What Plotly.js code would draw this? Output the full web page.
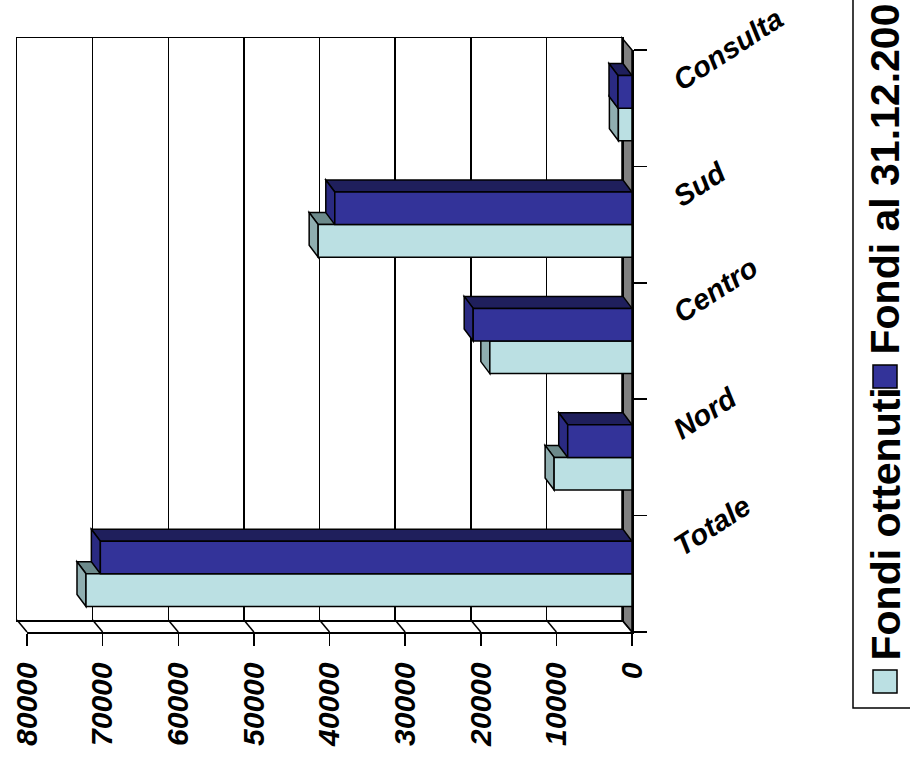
<!DOCTYPE html>
<html>
<head>
<meta charset="utf-8">
<script src="https://cdn.plot.ly/plotly-3.0.1.min.js"></script>
<style>
html,body{margin:0;padding:0;background:#ffffff;}
#chart{width:910px;height:762px;}
</style>
</head>
<body>
<div id="chart"></div>
<script>
// ---------------- data ----------------
const categories = ['Totale', 'Nord', 'Centro', 'Sud', 'Consulta'];
const fondiOttenuti = [72200, 10300, 18800, 41500, 1800];
const fondiAl = [70300, 8500, 21000, 39300, 1850];
const seriesNames = ['Fondi ottenuti', 'Fondi al 31.12.200'];
const xTickVals = [0, 10000, 20000, 30000, 40000, 50000, 60000, 70000, 80000];
const xTickText = ['0', '10000', '20000', '30000', '40000', '50000', '60000', '70000', '80000'];

// ---------------- geometry / style ----------------
const W = 910, H = 762;
const ML = 17, MR = 278, MT = 38, MB = 130;
const PW = W - ML - MR, PH = H - MT - MB;
const WALL_DX = 10, WALL_DY = 12;      // depth of the 3D walls (px)
const BAR_DX = 9, BAR_DY = 12;         // depth of the 3D bars (px)
const FW = PW - WALL_DX, FH = PH - WALL_DY;
const X_MAX = 80000;
const NCAT = categories.length;
const ux = X_MAX / FW;                 // value units per px
const uy = NCAT / FH;                  // category units per px
const BAR_W = 0.28;
const FONT = 'Liberation Sans, Arial, sans-serif';

const styles = [
  {front: '#BBE0E3', top: '#6C8A8B', side: '#8FAEB0', offset: -BAR_W},
  {front: '#333399', top: '#1F1F5C', side: '#2A2A82', offset: 0}
];
const LINE = {color: '#000000', width: 1.5};

const px2x = px => (px - ML) / PW;
const py2y = py => (MT + PH - py) / PH;
// front-plane x pixel of a value (reversed axis: X_MAX at the left)
const frontPx = v => ML + WALL_DX + (X_MAX - v) / ux;
const catIdx = categories.map((c, i) => i);

// ---------------- traces ----------------
const series = [fondiOttenuti, fondiAl];
const data = [
  {type: 'scatter', x: [], y: [], xaxis: 'x', yaxis: 'y', showlegend: false, hoverinfo: 'skip'}
];
series.forEach((vals, s) => {
  data.push({
    type: 'bar', orientation: 'h', name: seriesNames[s],
    x: vals, y: catIdx, xaxis: 'x2', yaxis: 'y2',
    width: BAR_W, offset: styles[s].offset,
    marker: {color: styles[s].front, line: LINE},
    showlegend: false, hoverinfo: 'skip'
  });
});

// ---------------- shapes ----------------
const shapes = [];
// floor (grey strip at value 0)
shapes.push({
  type: 'path', xref: 'paper', yref: 'paper', layer: 'below',
  path: `M ${px2x(ML + FW)},${py2y(MT)} L ${px2x(ML + PW)},${py2y(MT + WALL_DY)} ` +
        `L ${px2x(ML + PW)},${py2y(MT + PH)} L ${px2x(ML + FW)},${py2y(MT + FH)} Z`,
  fillcolor: '#808080', line: LINE
});
// connectors of the bottom wall (back edge -> front edge at every tick)
xTickVals.forEach(v => {
  const fx = frontPx(v);
  shapes.push({
    type: 'line', xref: 'paper', yref: 'paper', layer: 'above',
    x0: px2x(fx), y0: 0, x1: px2x(fx - WALL_DX), y1: WALL_DY / PH, line: LINE
  });
});
// 3D faces of the bars
const bdx = BAR_DX * ux, bdy = BAR_DY * uy;
series.forEach((vals, s) => {
  const st = styles[s];
  vals.forEach((v, i) => {
    const bot = i + st.offset, top = bot + BAR_W;
    shapes.push({
      type: 'path', xref: 'x2', yref: 'y2', layer: 'between',
      path: `M ${v},${top} L 0,${top} L ${bdx},${top + bdy} L ${v + bdx},${top + bdy} Z`,
      fillcolor: st.top, line: LINE
    });
    shapes.push({
      type: 'path', xref: 'x2', yref: 'y2', layer: 'between',
      path: `M ${v},${bot} L ${v},${top} L ${v + bdx},${top + bdy} L ${v + bdx},${bot + bdy} Z`,
      fillcolor: st.side, line: LINE
    });
  });
});
// legend box + keys
shapes.push({
  type: 'rect', xref: 'paper', yref: 'paper', layer: 'above',
  x0: px2x(853), x1: px2x(950), y0: py2y(708), y1: py2y(-40),
  fillcolor: 'rgba(0,0,0,0)', line: LINE
});
const keyY = [681.5, 376.5];
series.forEach((vals, s) => {
  shapes.push({
    type: 'rect', xref: 'paper', yref: 'paper', layer: 'above',
    x0: px2x(873), x1: px2x(897), y0: py2y(keyY[s] + 11.5), y1: py2y(keyY[s] - 11.5),
    fillcolor: styles[s].front, line: LINE
  });
});

// ---------------- annotations ----------------
const annotations = [];
categories.forEach((c, i) => {
  annotations.push({
    text: c, xref: 'paper', yref: 'y2', x: px2x(665), y: i,
    xanchor: 'left', yanchor: 'bottom', yshift: 9, textangle: -33, showarrow: false,
    font: {family: FONT, size: 29, color: '#000', weight: 'bold', style: 'italic'}
  });
});
const legTextBottom = [663, 357];
seriesNames.forEach((n, s) => {
  annotations.push({
    text: n, xref: 'paper', yref: 'paper', x: px2x(885), y: py2y(legTextBottom[s]),
    xanchor: 'center', yanchor: 'bottom', textangle: -90, showarrow: false,
    font: {family: FONT, size: 41, color: '#000', weight: 'bold'}
  });
});

// ---------------- layout ----------------
const layout = {
  width: W, height: H,
  margin: {l: ML, r: MR, t: MT, b: MB, pad: 0},
  paper_bgcolor: '#ffffff', plot_bgcolor: 'rgba(0,0,0,0)',
  showlegend: false, hovermode: false, barmode: 'overlay',
  xaxis: {
    domain: [0, FW / PW], range: [X_MAX, 0], anchor: 'y',
    tickvals: xTickVals, showticklabels: false, ticks: '',
    showgrid: true, gridcolor: '#000', gridwidth: 1.5,
    showline: true, linecolor: '#000', linewidth: 1.5, mirror: true, zeroline: false
  },
  yaxis: {
    domain: [WALL_DY / PH, 1], range: [0, 1], anchor: 'x',
    showgrid: false, showticklabels: false, ticks: '',
    showline: true, linecolor: '#000', linewidth: 1.5, mirror: true, zeroline: false
  },
  xaxis2: {
    domain: [WALL_DX / PW, 1], range: [X_MAX, 0], anchor: 'y2',
    tickvals: xTickVals, ticktext: xTickText, tickangle: -90,
    ticks: 'outside', ticklen: 12, tickwidth: 1.5, tickcolor: '#000',
    ticklabelstandoff: 5,
    tickfont: {family: FONT, size: 30, color: '#000', weight: 'bold', style: 'italic'},
    showgrid: false, zeroline: false,
    showline: true, linecolor: '#000', linewidth: 1.5
  },
  yaxis2: {
    domain: [0, FH / PH], range: [-0.5, NCAT - 0.5], anchor: 'x2', side: 'right',
    tickvals: catIdx.map(i => i - 0.5).concat([NCAT - 0.5]),
    ticktext: catIdx.map(() => '').concat(['']),
    ticks: 'outside', ticklen: 13, tickwidth: 1.5, tickcolor: '#000',
    showgrid: false, zeroline: false,
    showline: true, linecolor: '#000', linewidth: 1.5
  },
  shapes: shapes,
  annotations: annotations
};

Plotly.newPlot('chart', data, layout, {staticPlot: true, displayModeBar: false});
</script>
</body>
</html>
